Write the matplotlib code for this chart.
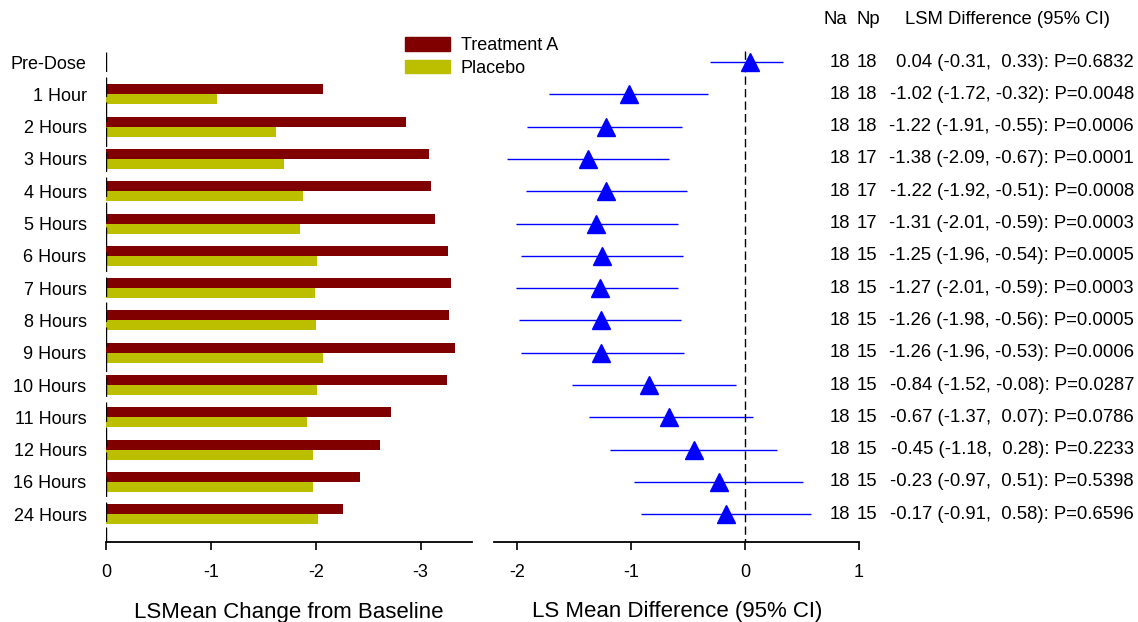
import numpy as np
import matplotlib
matplotlib.use('Agg')
import matplotlib.pyplot as plt
from matplotlib.patches import Patch
from matplotlib.transforms import blended_transform_factory

plt.rcParams['font.family'] = ['Liberation Sans', 'DejaVu Sans']
plt.rcParams['axes.unicode_minus'] = False

# visit labels, top to bottom
visits = ['Pre-Dose', '1 Hour', '2 Hours', '3 Hours', '4 Hours', '5 Hours', '6 Hours',
          '7 Hours', '8 Hours', '9 Hours', '10 Hours', '11 Hours', '12 Hours',
          '16 Hours', '24 Hours']

# LS mean change from baseline (no bars at pre-dose)
treat_a = [np.nan, -2.07, -2.86, -3.08, -3.10, -3.14, -3.26, -3.29, -3.27, -3.33,
           -3.25, -2.72, -2.61, -2.42, -2.26]
placebo = [np.nan, -1.06, -1.62, -1.70, -1.88, -1.85, -2.01, -1.99, -2.00, -2.07,
           -2.01, -1.92, -1.97, -1.97, -2.02]

# treatment difference and 95% CI
n_a = [18, 18, 18, 18, 18, 18, 18, 18, 18, 18, 18, 18, 18, 18, 18]
n_p = [18, 18, 18, 17, 17, 17, 15, 15, 15, 15, 15, 15, 15, 15, 15]
lsm_diff = [0.04, -1.02, -1.22, -1.38, -1.22, -1.31, -1.25, -1.27, -1.26, -1.26,
            -0.84, -0.67, -0.45, -0.23, -0.17]
ci_low = [-0.31, -1.72, -1.91, -2.09, -1.92, -2.01, -1.96, -2.01, -1.98, -1.96,
          -1.52, -1.37, -1.18, -0.97, -0.91]
ci_high = [0.33, -0.32, -0.55, -0.67, -0.51, -0.59, -0.54, -0.59, -0.56, -0.53,
           -0.08, 0.07, 0.28, 0.51, 0.58]
p_vals = [0.6832, 0.0048, 0.0006, 0.0001, 0.0008, 0.0003, 0.0005, 0.0003, 0.0005,
          0.0006, 0.0287, 0.0786, 0.2233, 0.5398, 0.6596]

red = '#800000'
olive = '#bbbf00'
blue = '#0000ff'

W, H = 1138, 622
fig = plt.figure(figsize=(W / 100, H / 100), dpi=100)

ax1 = fig.add_axes([106 / W, (H - 542) / H, 366 / W, 509 / H])
ax2 = fig.add_axes([494 / W, (H - 542) / H, 365 / W, 509 / H])

rows = np.arange(len(visits))
ybot, ytop = 14.86, -0.9
bh = 0.31

# left panel: bars
ax1.barh(rows - bh / 2, treat_a, height=bh, color=red)
ax1.barh(rows + bh / 2, placebo, height=bh, color=olive)
ax1.plot([0, 0], [-0.3, ybot], color='black', lw=1, ls=(0, (14, 4)))
ax1.set_xlim(0, -3.49)
ax1.set_ylim(ybot, ytop)
ax1.set_xticks([0, -1, -2, -3])
ax1.set_xticklabels(['0', '-1', '-2', '-3'])
ax1.set_yticks(rows)
ax1.set_yticklabels(visits)
ax1.tick_params(axis='y', length=0, pad=14, labelsize=13)

# right panel: forest plot
ax2.hlines(rows, ci_low, ci_high, color=blue, lw=1)
ax2.plot(lsm_diff, rows, ls='none', marker='^', ms=12.5, color=blue, zorder=3)
ax2.plot([0, 0], [-0.35, ybot], color='black', lw=1, ls=(0, (6, 3)))
ax2.set_xlim(-2.2, 1.0)
ax2.set_ylim(ybot, ytop)
ax2.set_xticks([-2, -1, 0, 1])
ax2.set_yticks([])

for ax in (ax1, ax2):
    for s in ('top', 'right', 'left'):
        ax.spines[s].set_visible(False)
    ax.spines['bottom'].set_linewidth(1.3)
    ax.tick_params(axis='x', length=6, width=1.2, pad=10, labelsize=13)

fig.text(289 / W, (H - 618) / H, 'LSMean Change from Baseline', ha='center',
         va='baseline', fontsize=16)
fig.text(677 / W, (H - 617) / H, 'LS Mean Difference (95% CI)', ha='center',
         va='baseline', fontsize=16)

# legend
handles = [Patch(color=red, label='Treatment A'), Patch(color=olive, label='Placebo')]
fig.legend(handles=handles, loc='upper left', bbox_to_anchor=(405 / W, 1 - 37 / H),
           frameon=False, borderpad=0, borderaxespad=0, fontsize=13,
           handlelength=2.5, handleheight=0.8, handletextpad=0.6, labelspacing=0.3)

# table of counts and differences
tr = blended_transform_factory(fig.transFigure, ax2.transData)
hy = 1 - 20 / H
fig.text(823 / W, hy, 'Na', fontsize=13.3, va='center')
fig.text(857 / W, hy, 'Np', fontsize=13.3, va='center')
fig.text(905 / W, hy, 'LSM Difference (95% CI)', fontsize=13.3, va='center')
for i in rows:
    ax2.text(850 / W, i, str(n_a[i]), transform=tr, ha='right', va='center',
             fontsize=13.3, clip_on=False)
    ax2.text(877 / W, i, str(n_p[i]), transform=tr, ha='right', va='center',
             fontsize=13.3, clip_on=False)
    s = '%.2f (%.2f, %5.2f): P=%.4f' % (lsm_diff[i], ci_low[i], ci_high[i], p_vals[i])
    ax2.text(1134 / W, i, s, transform=tr, ha='right', va='center',
             fontsize=13.3, clip_on=False)

fig.savefig('out.png', dpi=100)
